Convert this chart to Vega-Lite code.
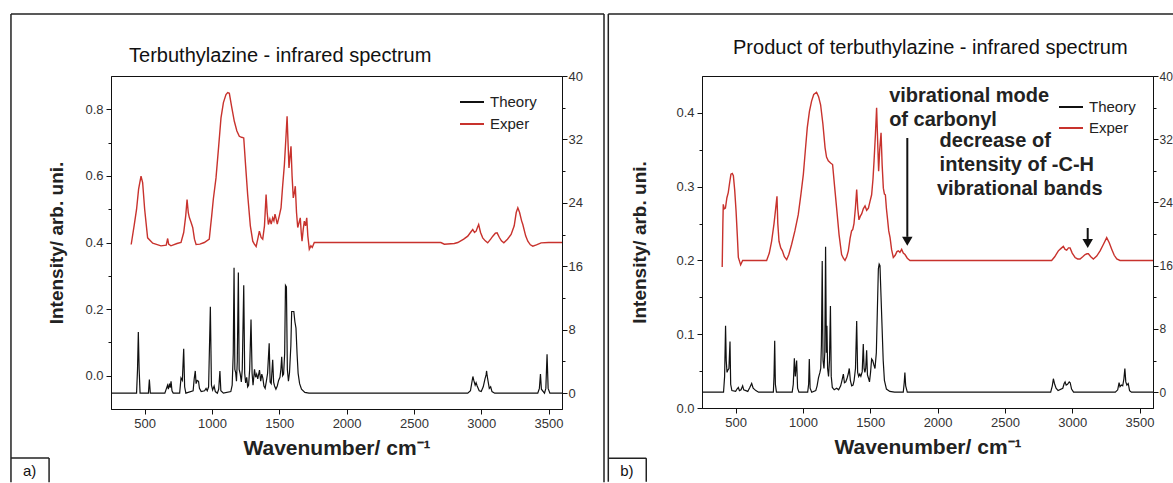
{
  "$schema": "https://vega.github.io/schema/vega-lite/v6.json",
  "padding": {"left": 9, "top": 12, "right": 0, "bottom": 0},
  "background": "white",
  "spacing": 1,
  "config": {
    "view": {"stroke": "#111", "strokeWidth": 1},
    "axis": {
      "domainColor": "#111", "tickColor": "#111", "grid": false,
      "labelFont": "Liberation Sans", "labelFontSize": 13, "labelColor": "#333",
      "titleFont": "Liberation Sans", "titleFontSize": 19, "titleFontWeight": "bold", "titleColor": "#222",
      "labelPadding": 3
    },
    "legend": {"labelFont": "Liberation Sans", "labelColor": "#222"}
  },
  "datasets": {
    "a_exp": [{"wn":400,"val":0.394},{"wn":423,"val":0.454},{"wn":440,"val":0.5},{"wn":455,"val":0.56},{"wn":473,"val":0.599},{"wn":485,"val":0.58},{"wn":500,"val":0.5},{"wn":522,"val":0.414},{"wn":560,"val":0.398},{"wn":621,"val":0.39},{"wn":660,"val":0.392},{"wn":671,"val":0.412},{"wn":678,"val":0.395},{"wn":695,"val":0.39},{"wn":740,"val":0.397},{"wn":770,"val":0.40},{"wn":790,"val":0.43},{"wn":805,"val":0.48},{"wn":815,"val":0.529},{"wn":824,"val":0.49},{"wn":832,"val":0.475},{"wn":845,"val":0.46},{"wn":857,"val":0.445},{"wn":870,"val":0.41},{"wn":882,"val":0.394},{"wn":910,"val":0.395},{"wn":943,"val":0.40},{"wn":980,"val":0.41},{"wn":990,"val":0.45},{"wn":998,"val":0.48},{"wn":1010,"val":0.53},{"wn":1030,"val":0.594},{"wn":1050,"val":0.69},{"wn":1067,"val":0.774},{"wn":1085,"val":0.82},{"wn":1104,"val":0.844},{"wn":1117,"val":0.85},{"wn":1129,"val":0.848},{"wn":1145,"val":0.81},{"wn":1166,"val":0.764},{"wn":1185,"val":0.735},{"wn":1203,"val":0.719},{"wn":1220,"val":0.716},{"wn":1236,"val":0.714},{"wn":1250,"val":0.63},{"wn":1265,"val":0.544},{"wn":1285,"val":0.45},{"wn":1303,"val":0.404},{"wn":1315,"val":0.395},{"wn":1328,"val":0.388},{"wn":1340,"val":0.41},{"wn":1352,"val":0.434},{"wn":1365,"val":0.415},{"wn":1377,"val":0.41},{"wn":1390,"val":0.45},{"wn":1402,"val":0.544},{"wn":1410,"val":0.49},{"wn":1419,"val":0.454},{"wn":1430,"val":0.47},{"wn":1440,"val":0.455},{"wn":1451,"val":0.474},{"wn":1460,"val":0.465},{"wn":1468,"val":0.485},{"wn":1477,"val":0.47},{"wn":1485,"val":0.455},{"wn":1500,"val":0.48},{"wn":1513,"val":0.504},{"wn":1525,"val":0.57},{"wn":1538,"val":0.634},{"wn":1550,"val":0.72},{"wn":1558,"val":0.779},{"wn":1565,"val":0.7},{"wn":1572,"val":0.624},{"wn":1580,"val":0.66},{"wn":1587,"val":0.689},{"wn":1595,"val":0.6},{"wn":1604,"val":0.534},{"wn":1612,"val":0.55},{"wn":1619,"val":0.569},{"wn":1628,"val":0.49},{"wn":1637,"val":0.445},{"wn":1647,"val":0.46},{"wn":1656,"val":0.474},{"wn":1663,"val":0.43},{"wn":1669,"val":0.404},{"wn":1678,"val":0.44},{"wn":1686,"val":0.464},{"wn":1695,"val":0.45},{"wn":1704,"val":0.474},{"wn":1712,"val":0.42},{"wn":1723,"val":0.38},{"wn":1735,"val":0.39},{"wn":1745,"val":0.385},{"wn":1760,"val":0.40},{"wn":2700,"val":0.40},{"wn":2726,"val":0.395},{"wn":2800,"val":0.397},{"wn":2826,"val":0.40},{"wn":2870,"val":0.41},{"wn":2900,"val":0.419},{"wn":2920,"val":0.43},{"wn":2937,"val":0.439},{"wn":2950,"val":0.43},{"wn":2962,"val":0.434},{"wn":2972,"val":0.445},{"wn":2981,"val":0.454},{"wn":2995,"val":0.43},{"wn":3011,"val":0.414},{"wn":3030,"val":0.405},{"wn":3048,"val":0.399},{"wn":3070,"val":0.41},{"wn":3086,"val":0.419},{"wn":3105,"val":0.428},{"wn":3118,"val":0.429},{"wn":3135,"val":0.415},{"wn":3150,"val":0.405},{"wn":3168,"val":0.399},{"wn":3195,"val":0.41},{"wn":3222,"val":0.424},{"wn":3245,"val":0.45},{"wn":3260,"val":0.49},{"wn":3272,"val":0.504},{"wn":3285,"val":0.49},{"wn":3300,"val":0.465},{"wn":3309,"val":0.454},{"wn":3330,"val":0.42},{"wn":3346,"val":0.404},{"wn":3365,"val":0.393},{"wn":3383,"val":0.389},{"wn":3410,"val":0.393},{"wn":3445,"val":0.399},{"wn":3500,"val":0.40},{"wn":3600,"val":0.40}],
    "a_th": [{"wn":250,"th":0},{"wn":440,"th":0},{"wn":447,"th":3},{"wn":453,"th":7.7},{"wn":459,"th":3},{"wn":466,"th":0},{"wn":528,"th":0},{"wn":535,"th":1.7},{"wn":542,"th":0},{"wn":650,"th":0},{"wn":662,"th":0.6},{"wn":670,"th":1.0},{"wn":676,"th":0.5},{"wn":684,"th":1.2},{"wn":690,"th":0.7},{"wn":696,"th":1.5},{"wn":703,"th":0.3},{"wn":712,"th":0},{"wn":760,"th":0},{"wn":770,"th":1.9},{"wn":780,"th":1.6},{"wn":790,"th":5.6},{"wn":797,"th":0.8},{"wn":806,"th":0},{"wn":860,"th":0.3},{"wn":868,"th":1.8},{"wn":876,"th":2.8},{"wn":882,"th":1.2},{"wn":890,"th":1.6},{"wn":900,"th":1.5},{"wn":907,"th":0.6},{"wn":920,"th":0.2},{"wn":945,"th":0.3},{"wn":956,"th":0.6},{"wn":965,"th":0.3},{"wn":975,"th":0.8},{"wn":988,"th":10.9},{"wn":996,"th":1.0},{"wn":1005,"th":0.4},{"wn":1016,"th":0.9},{"wn":1025,"th":0.2},{"wn":1040,"th":0},{"wn":1050,"th":0.5},{"wn":1059,"th":2.8},{"wn":1066,"th":0.3},{"wn":1085,"th":0},{"wn":1140,"th":0.2},{"wn":1150,"th":1},{"wn":1158,"th":5},{"wn":1164,"th":15.8},{"wn":1170,"th":3},{"wn":1176,"th":2.6},{"wn":1182,"th":1.5},{"wn":1188,"th":4},{"wn":1196,"th":15.2},{"wn":1202,"th":3},{"wn":1210,"th":2.4},{"wn":1218,"th":1.4},{"wn":1225,"th":3},{"wn":1236,"th":13.6},{"wn":1243,"th":2.5},{"wn":1250,"th":1.3},{"wn":1258,"th":2},{"wn":1265,"th":0.8},{"wn":1272,"th":1},{"wn":1280,"th":3},{"wn":1290,"th":9.3},{"wn":1298,"th":2.5},{"wn":1305,"th":1.0},{"wn":1316,"th":3.0},{"wn":1324,"th":2.0},{"wn":1332,"th":2.4},{"wn":1340,"th":1.8},{"wn":1353,"th":2.9},{"wn":1362,"th":1.5},{"wn":1370,"th":2.4},{"wn":1378,"th":1.9},{"wn":1386,"th":0.9},{"wn":1395,"th":0.6},{"wn":1405,"th":1.6},{"wn":1413,"th":2.5},{"wn":1425,"th":6.3},{"wn":1432,"th":1.4},{"wn":1440,"th":1.2},{"wn":1451,"th":4.2},{"wn":1458,"th":1.4},{"wn":1465,"th":0.9},{"wn":1475,"th":0.5},{"wn":1485,"th":0.9},{"wn":1495,"th":1.6},{"wn":1505,"th":2.0},{"wn":1512,"th":3},{"wn":1518,"th":4.6},{"wn":1525,"th":2.2},{"wn":1532,"th":2.4},{"wn":1540,"th":5},{"wn":1546,"th":13.6},{"wn":1553,"th":13.4},{"wn":1560,"th":3},{"wn":1568,"th":1.5},{"wn":1576,"th":2.6},{"wn":1586,"th":6},{"wn":1592,"th":10.3},{"wn":1600,"th":10.3},{"wn":1608,"th":10.3},{"wn":1616,"th":9},{"wn":1624,"th":8.2},{"wn":1632,"th":5},{"wn":1640,"th":2.5},{"wn":1651,"th":1.2},{"wn":1665,"th":0.5},{"wn":1690,"th":0.1},{"wn":1720,"th":0},{"wn":2900,"th":0},{"wn":2920,"th":0.3},{"wn":2932,"th":1.5},{"wn":2938,"th":2.1},{"wn":2945,"th":1.6},{"wn":2955,"th":1.0},{"wn":2962,"th":1.3},{"wn":2970,"th":0.9},{"wn":2985,"th":0.3},{"wn":3000,"th":0.2},{"wn":3015,"th":0.8},{"wn":3028,"th":1.8},{"wn":3036,"th":2.3},{"wn":3040,"th":2.8},{"wn":3044,"th":2.2},{"wn":3052,"th":1.4},{"wn":3060,"th":0.6},{"wn":3070,"th":0.8},{"wn":3080,"th":0.2},{"wn":3100,"th":0},{"wn":3420,"th":0},{"wn":3432,"th":0.6},{"wn":3440,"th":2.4},{"wn":3447,"th":0.5},{"wn":3470,"th":0},{"wn":3480,"th":0.6},{"wn":3489,"th":4.9},{"wn":3497,"th":0.6},{"wn":3510,"th":0},{"wn":3600,"th":0}],
    "b_exp": [{"wn":400,"val":0.191},{"wn":405,"val":0.25},{"wn":408,"val":0.276},{"wn":415,"val":0.27},{"wn":424,"val":0.271},{"wn":435,"val":0.285},{"wn":445,"val":0.292},{"wn":455,"val":0.305},{"wn":465,"val":0.317},{"wn":475,"val":0.318},{"wn":483,"val":0.315},{"wn":493,"val":0.295},{"wn":503,"val":0.267},{"wn":512,"val":0.235},{"wn":520,"val":0.204},{"wn":537,"val":0.194},{"wn":552,"val":0.2},{"wn":730,"val":0.2},{"wn":750,"val":0.21},{"wn":767,"val":0.226},{"wn":785,"val":0.25},{"wn":797,"val":0.27},{"wn":807,"val":0.287},{"wn":813,"val":0.25},{"wn":822,"val":0.226},{"wn":835,"val":0.217},{"wn":847,"val":0.213},{"wn":862,"val":0.205},{"wn":879,"val":0.201},{"wn":895,"val":0.208},{"wn":916,"val":0.222},{"wn":940,"val":0.24},{"wn":965,"val":0.262},{"wn":985,"val":0.29},{"wn":1003,"val":0.317},{"wn":1018,"val":0.35},{"wn":1032,"val":0.38},{"wn":1048,"val":0.402},{"wn":1064,"val":0.416},{"wn":1080,"val":0.425},{"wn":1101,"val":0.428},{"wn":1116,"val":0.422},{"wn":1131,"val":0.411},{"wn":1148,"val":0.385},{"wn":1164,"val":0.353},{"wn":1175,"val":0.34},{"wn":1188,"val":0.335},{"wn":1205,"val":0.332},{"wn":1220,"val":0.33},{"wn":1235,"val":0.3},{"wn":1250,"val":0.271},{"wn":1268,"val":0.235},{"wn":1287,"val":0.208},{"wn":1300,"val":0.203},{"wn":1312,"val":0.2},{"wn":1325,"val":0.205},{"wn":1337,"val":0.213},{"wn":1350,"val":0.23},{"wn":1361,"val":0.24},{"wn":1370,"val":0.242},{"wn":1379,"val":0.25},{"wn":1389,"val":0.27},{"wn":1399,"val":0.296},{"wn":1407,"val":0.27},{"wn":1416,"val":0.255},{"wn":1426,"val":0.26},{"wn":1436,"val":0.263},{"wn":1448,"val":0.27},{"wn":1461,"val":0.274},{"wn":1473,"val":0.268},{"wn":1486,"val":0.271},{"wn":1498,"val":0.28},{"wn":1510,"val":0.289},{"wn":1520,"val":0.31},{"wn":1528,"val":0.335},{"wn":1538,"val":0.37},{"wn":1547,"val":0.407},{"wn":1555,"val":0.36},{"wn":1562,"val":0.321},{"wn":1570,"val":0.35},{"wn":1580,"val":0.373},{"wn":1588,"val":0.33},{"wn":1597,"val":0.298},{"wn":1605,"val":0.29},{"wn":1612,"val":0.289},{"wn":1620,"val":0.27},{"wn":1627,"val":0.258},{"wn":1637,"val":0.24},{"wn":1647,"val":0.231},{"wn":1658,"val":0.215},{"wn":1671,"val":0.204},{"wn":1685,"val":0.207},{"wn":1698,"val":0.212},{"wn":1708,"val":0.213},{"wn":1720,"val":0.211},{"wn":1733,"val":0.215},{"wn":1745,"val":0.21},{"wn":1758,"val":0.208},{"wn":1775,"val":0.203},{"wn":1795,"val":0.2},{"wn":2847,"val":0.2},{"wn":2870,"val":0.205},{"wn":2897,"val":0.213},{"wn":2915,"val":0.216},{"wn":2934,"val":0.219},{"wn":2947,"val":0.215},{"wn":2959,"val":0.214},{"wn":2972,"val":0.217},{"wn":2984,"val":0.217},{"wn":3000,"val":0.21},{"wn":3021,"val":0.204},{"wn":3040,"val":0.202},{"wn":3058,"val":0.202},{"wn":3078,"val":0.205},{"wn":3096,"val":0.208},{"wn":3110,"val":0.209},{"wn":3120,"val":0.209},{"wn":3138,"val":0.205},{"wn":3157,"val":0.202},{"wn":3182,"val":0.206},{"wn":3207,"val":0.213},{"wn":3232,"val":0.222},{"wn":3256,"val":0.231},{"wn":3275,"val":0.224},{"wn":3294,"val":0.215},{"wn":3312,"val":0.207},{"wn":3331,"val":0.202},{"wn":3355,"val":0.2},{"wn":3380,"val":0.2},{"wn":3600,"val":0.2}],
    "b_th": [{"wn":250,"th":0},{"wn":410,"th":0},{"wn":418,"th":2},{"wn":425,"th":8.4},{"wn":430,"th":4},{"wn":436,"th":2.5},{"wn":442,"th":2.8},{"wn":450,"th":3},{"wn":458,"th":6.4},{"wn":463,"th":1},{"wn":472,"th":0.2},{"wn":500,"th":0.1},{"wn":510,"th":0.4},{"wn":520,"th":0.6},{"wn":528,"th":0.2},{"wn":540,"th":0.3},{"wn":552,"th":0.8},{"wn":560,"th":0.3},{"wn":590,"th":0.1},{"wn":605,"th":0.6},{"wn":619,"th":1.1},{"wn":630,"th":0.5},{"wn":650,"th":0.2},{"wn":670,"th":0},{"wn":780,"th":0},{"wn":785,"th":2},{"wn":790,"th":6.5},{"wn":795,"th":1},{"wn":803,"th":0},{"wn":920,"th":0},{"wn":928,"th":1},{"wn":936,"th":4.3},{"wn":943,"th":2},{"wn":948,"th":3},{"wn":953,"th":4.0},{"wn":960,"th":0.5},{"wn":970,"th":0},{"wn":1035,"th":0},{"wn":1042,"th":1},{"wn":1047,"th":4.2},{"wn":1053,"th":0.5},{"wn":1065,"th":0},{"wn":1095,"th":0.2},{"wn":1105,"th":0.8},{"wn":1115,"th":1.8},{"wn":1126,"th":2.5},{"wn":1132,"th":3},{"wn":1137,"th":6},{"wn":1143,"th":16.6},{"wn":1149,"th":4},{"wn":1156,"th":3},{"wn":1162,"th":5},{"wn":1168,"th":18.4},{"wn":1174,"th":5},{"wn":1178,"th":8.4},{"wn":1183,"th":3},{"wn":1190,"th":2},{"wn":1197,"th":4},{"wn":1204,"th":10.9},{"wn":1210,"th":2},{"wn":1218,"th":0.6},{"wn":1232,"th":0.3},{"wn":1250,"th":0.5},{"wn":1265,"th":0.3},{"wn":1280,"th":0.8},{"wn":1290,"th":1.5},{"wn":1300,"th":2.3},{"wn":1308,"th":1.2},{"wn":1318,"th":1.3},{"wn":1328,"th":1.8},{"wn":1336,"th":2.3},{"wn":1344,"th":3.0},{"wn":1352,"th":1.5},{"wn":1362,"th":0.8},{"wn":1372,"th":0.9},{"wn":1380,"th":1.5},{"wn":1390,"th":3},{"wn":1399,"th":9.0},{"wn":1406,"th":2.5},{"wn":1414,"th":2},{"wn":1422,"th":2.3},{"wn":1430,"th":2},{"wn":1440,"th":2.6},{"wn":1448,"th":6.1},{"wn":1454,"th":3},{"wn":1460,"th":2.5},{"wn":1466,"th":3},{"wn":1473,"th":5.3},{"wn":1479,"th":2.2},{"wn":1486,"th":1.8},{"wn":1494,"th":1.3},{"wn":1502,"th":2.5},{"wn":1510,"th":4.2},{"wn":1518,"th":4.0},{"wn":1526,"th":3.5},{"wn":1535,"th":3.0},{"wn":1545,"th":5},{"wn":1552,"th":10},{"wn":1560,"th":15.6},{"wn":1566,"th":16.2},{"wn":1572,"th":16.0},{"wn":1580,"th":12},{"wn":1588,"th":8},{"wn":1596,"th":4},{"wn":1605,"th":1.5},{"wn":1620,"th":0.4},{"wn":1645,"th":0.1},{"wn":1680,"th":0},{"wn":1745,"th":0},{"wn":1752,"th":1.2},{"wn":1757,"th":2.5},{"wn":1763,"th":0.8},{"wn":1775,"th":0},{"wn":2840,"th":0},{"wn":2852,"th":0.8},{"wn":2860,"th":1.7},{"wn":2868,"th":1.1},{"wn":2880,"th":0.5},{"wn":2895,"th":0.2},{"wn":2930,"th":0.5},{"wn":2940,"th":1.1},{"wn":2947,"th":1.3},{"wn":2955,"th":0.9},{"wn":2965,"th":1.0},{"wn":2978,"th":1.3},{"wn":2985,"th":1.2},{"wn":2995,"th":0.4},{"wn":3010,"th":0},{"wn":3320,"th":0},{"wn":3338,"th":0.3},{"wn":3348,"th":1.2},{"wn":3355,"th":0.7},{"wn":3365,"th":0.9},{"wn":3375,"th":0.8},{"wn":3384,"th":1.7},{"wn":3391,"th":3.0},{"wn":3398,"th":1.3},{"wn":3406,"th":0.9},{"wn":3416,"th":1.1},{"wn":3426,"th":0.2},{"wn":3440,"th":0},{"wn":3600,"th":0}],
    "a_frame": [
      {"wn": -493, "val": 1.086, "wn2": 3912, "val2": 1.086},
      {"wn": -493, "val": 1.086, "wn2": -493, "val2": -0.32},
      {"wn": 3912, "val": 1.086, "wn2": 3912, "val2": -0.32},
      {"wn": -493, "val": -0.247, "wn2": -210, "val2": -0.247},
      {"wn": -210, "val": -0.247, "wn2": -210, "val2": -0.32}
    ],
    "b_frame": [
      {"wn": -446, "val": 0.534, "wn2": 3766, "val2": 0.534},
      {"wn": -446, "val": 0.534, "wn2": -446, "val2": -0.1},
      {"wn": -446, "val": -0.068, "wn2": -164, "val2": -0.068},
      {"wn": -164, "val": -0.068, "wn2": -164, "val2": -0.1}
    ],
    "b_arrow": [
      {"wn": 1775, "val": 0.366, "wn2": 1775, "val2": 0.232},
      {"wn": 3115, "val": 0.244, "wn2": 3115, "val2": 0.229}
    ],
    "b_head": [{"wn": 1775, "val": 0.226}, {"wn": 3115, "val": 0.223}],
    "a_title": [{"t": "Terbuthylazine - infrared spectrum", "wn": 384, "val": 0.96}],
    "a_tag": [{"t": "a)", "wn": -404, "val": -0.286}],
    "b_title": [{"t": "Product of terbuthylazine - infrared spectrum", "wn": 1946, "val": 0.488}],
    "b_tag": [{"t": "b)", "wn": -357, "val": -0.0854}],
    "b_ann": [
      {"t": "vibrational mode", "wn": 1640, "val": 0.4229},
      {"t": "of carbonyl", "wn": 1640, "val": 0.3904},
      {"t": "decrease of", "wn": 2015, "val": 0.3619},
      {"t": "intensity of -C-H", "wn": 2015, "val": 0.3294},
      {"t": "vibrational bands", "wn": 1995, "val": 0.2968}
    ]
  },
  "resolve": {"scale": {"x": "independent", "y": "independent", "color": "independent"}},
  "hconcat": [
    {
      "width": 451,
      "height": 333,
      "resolve": {"scale": {"y": "independent"}},
      "layer": [
        {
          "layer": [
            {
              "data": {"name": "a_exp"},
              "mark": {"type": "line", "strokeWidth": 1.4, "clip": true},
              "encoding": {
                "x": {"field": "wn", "type": "quantitative", "scale": {"domain": [250, 3600], "nice": false, "zero": false},
                  "axis": {"title": "Wavenumber/ cm⁻¹", "titleFontSize": 21, "titlePadding": 7, "format": "d",
                    "values": [500, 750, 1000, 1250, 1500, 1750, 2000, 2250, 2500, 2750, 3000, 3250, 3500],
                    "labelExpr": "datum.value % 500 === 0 ? datum.label : ''",
                    "tickSize": {"condition": {"test": "datum.value % 500 === 0", "value": 5}, "value": 3}}},
                "y": {"field": "val", "type": "quantitative", "scale": {"domain": [-0.1, 0.9], "nice": false, "zero": false},
                  "axis": {"title": "Intensity/ arb. uni.", "titlePadding": 18, "format": ".1f",
                    "values": [0, 0.1, 0.2, 0.3, 0.4, 0.5, 0.6, 0.7, 0.8],
                    "labelExpr": "round(datum.value * 10) % 2 === 0 ? datum.label : ''",
                    "tickSize": {"condition": {"test": "round(datum.value * 10) % 2 === 0", "value": 5}, "value": 3}}},
                "color": {"datum": "Exper", "type": "nominal",
                  "scale": {"domain": ["Theory", "Exper"], "range": ["#111111", "#c8322d"]},
                  "legend": {"title": null, "orient": "none", "legendX": 348, "legendY": 13, "padding": 0, "rowPadding": 1,
                    "symbolType": "stroke", "symbolSize": 576, "symbolStrokeWidth": 2, "labelFontSize": 15, "labelOffset": 5}}
              }
            },
            {
              "data": {"name": "a_frame"},
              "mark": {"type": "rule", "color": "#222", "strokeWidth": 1.5},
              "encoding": {
                "x": {"field": "wn", "type": "quantitative"},
                "x2": {"field": "wn2"},
                "y": {"field": "val", "type": "quantitative"},
                "y2": {"field": "val2"}
              }
            },
            {
              "data": {"name": "a_title"},
              "mark": {"type": "text", "font": "Liberation Sans", "fontSize": 20, "align": "left", "baseline": "middle", "color": "#111"},
              "encoding": {
                "x": {"field": "wn", "type": "quantitative"},
                "y": {"field": "val", "type": "quantitative"},
                "text": {"field": "t"}
              }
            },
            {
              "data": {"name": "a_tag"},
              "mark": {"type": "text", "font": "Liberation Sans", "fontSize": 15, "align": "left", "baseline": "middle", "color": "#111"},
              "encoding": {
                "x": {"field": "wn", "type": "quantitative"},
                "y": {"field": "val", "type": "quantitative"},
                "text": {"field": "t"}
              }
            }
          ]
        },
        {
          "data": {"name": "a_th"},
          "mark": {"type": "line", "strokeWidth": 1.2, "clip": true},
          "encoding": {
            "x": {"field": "wn", "type": "quantitative"},
            "y": {"field": "th", "type": "quantitative", "scale": {"domain": [-2, 40], "nice": false, "zero": false},
              "axis": {"orient": "right", "title": null, "format": "d", "labelPadding": 1,
                "values": [0, 4, 8, 12, 16, 20, 24, 28, 32, 36, 40],
                "labelExpr": "datum.value % 8 === 0 ? datum.label : ''",
                "tickSize": {"condition": {"test": "datum.value % 8 === 0", "value": 5}, "value": 3}}},
            "color": {"datum": "Theory", "type": "nominal"}
          }
        }
      ]
    },
    {
      "width": 451,
      "height": 332,
      "resolve": {"scale": {"y": "independent"}},
      "layer": [
        {
          "layer": [
            {
              "data": {"name": "b_exp"},
              "mark": {"type": "line", "strokeWidth": 1.4, "clip": true},
              "encoding": {
                "x": {"field": "wn", "type": "quantitative", "scale": {"domain": [250, 3600], "nice": false, "zero": false},
                  "axis": {"title": "Wavenumber/ cm⁻¹", "titleFontSize": 21, "titlePadding": 7, "format": "d",
                    "values": [500, 750, 1000, 1250, 1500, 1750, 2000, 2250, 2500, 2750, 3000, 3250, 3500],
                    "labelExpr": "datum.value % 500 === 0 ? datum.label : ''",
                    "tickSize": {"condition": {"test": "datum.value % 500 === 0", "value": 5}, "value": 3}}},
                "y": {"field": "val", "type": "quantitative", "scale": {"domain": [0, 0.45], "nice": false, "zero": false},
                  "axis": {"title": "Intensity/ arb. uni.", "titlePadding": 26, "format": ".1f",
                    "values": [0, 0.05, 0.1, 0.15, 0.2, 0.25, 0.3, 0.35, 0.4],
                    "labelExpr": "round(datum.value * 100) % 10 === 0 ? datum.label : ''",
                    "tickSize": {"condition": {"test": "round(datum.value * 100) % 10 === 0", "value": 5}, "value": 3}}},
                "color": {"datum": "Exper", "type": "nominal",
                  "scale": {"domain": ["Theory", "Exper"], "range": ["#111111", "#c8322d"]},
                  "legend": {"title": null, "orient": "none", "legendX": 356, "legendY": 18, "padding": 0, "rowPadding": -4,
                    "symbolType": "stroke", "symbolSize": 576, "symbolStrokeWidth": 2, "labelFontSize": 15, "labelOffset": 5}}
              }
            },
            {
              "data": {"name": "b_frame"},
              "mark": {"type": "rule", "color": "#222", "strokeWidth": 1.5},
              "encoding": {
                "x": {"field": "wn", "type": "quantitative"},
                "x2": {"field": "wn2"},
                "y": {"field": "val", "type": "quantitative"},
                "y2": {"field": "val2"}
              }
            },
            {
              "data": {"name": "b_arrow"},
              "mark": {"type": "rule", "color": "#111", "strokeWidth": 2},
              "encoding": {
                "x": {"field": "wn", "type": "quantitative"},
                "x2": {"field": "wn2"},
                "y": {"field": "val", "type": "quantitative"},
                "y2": {"field": "val2"}
              }
            },
            {
              "data": {"name": "b_head"},
              "mark": {"type": "point", "shape": "triangle-down", "filled": true, "size": 110, "color": "#111", "opacity": 1},
              "encoding": {
                "x": {"field": "wn", "type": "quantitative"},
                "y": {"field": "val", "type": "quantitative"}
              }
            },
            {
              "data": {"name": "b_title"},
              "mark": {"type": "text", "font": "Liberation Sans", "fontSize": 20, "align": "center", "baseline": "middle", "color": "#111"},
              "encoding": {
                "x": {"field": "wn", "type": "quantitative"},
                "y": {"field": "val", "type": "quantitative"},
                "text": {"field": "t"}
              }
            },
            {
              "data": {"name": "b_tag"},
              "mark": {"type": "text", "font": "Liberation Sans", "fontSize": 15, "align": "left", "baseline": "middle", "color": "#111"},
              "encoding": {
                "x": {"field": "wn", "type": "quantitative"},
                "y": {"field": "val", "type": "quantitative"},
                "text": {"field": "t"}
              }
            },
            {
              "data": {"name": "b_ann"},
              "mark": {"type": "text", "font": "Liberation Sans", "fontSize": 20, "fontWeight": "bold", "align": "left", "baseline": "middle", "color": "#222"},
              "encoding": {
                "x": {"field": "wn", "type": "quantitative"},
                "y": {"field": "val", "type": "quantitative"},
                "text": {"field": "t"}
              }
            }
          ]
        },
        {
          "data": {"name": "b_th"},
          "mark": {"type": "line", "strokeWidth": 1.2, "clip": true},
          "encoding": {
            "x": {"field": "wn", "type": "quantitative"},
            "y": {"field": "th", "type": "quantitative", "scale": {"domain": [-2, 40], "nice": false, "zero": false},
              "axis": {"orient": "right", "title": null, "format": "d", "labelPadding": 1, "labelFontSize": 12,
                "values": [0, 4, 8, 12, 16, 20, 24, 28, 32, 36, 40],
                "labelExpr": "datum.value % 8 === 0 ? datum.label : ''",
                "tickSize": {"condition": {"test": "datum.value % 8 === 0", "value": 5}, "value": 3}}},
            "color": {"datum": "Theory", "type": "nominal"}
          }
        }
      ]
    }
  ]
}
